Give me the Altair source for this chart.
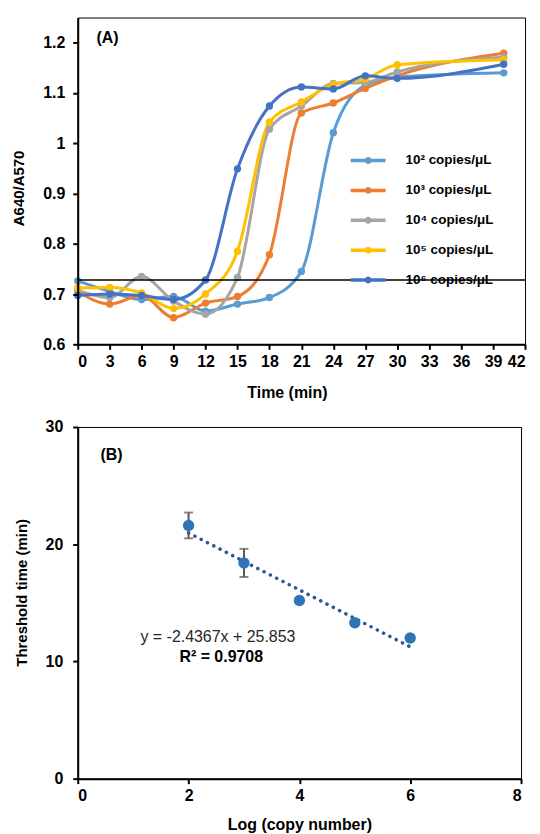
import altair as alt
import pandas as pd

# ---------------- Panel A data ----------------
time_min = [0, 3, 6, 9, 12, 15, 18, 21, 24, 27, 30, 40]
s_1e2 = [0.726, 0.705, 0.689, 0.695, 0.666, 0.680, 0.693, 0.745, 1.021, 1.115, 1.131, 1.140]
s_1e3 = [0.705, 0.680, 0.697, 0.653, 0.682, 0.695, 0.778, 1.060, 1.080, 1.109, 1.134, 1.179]
s_1e4 = [0.707, 0.693, 0.735, 0.686, 0.660, 0.733, 1.028, 1.074, 1.119, 1.121, 1.142, 1.171]
s_1e5 = [0.712, 0.713, 0.702, 0.671, 0.700, 0.785, 1.042, 1.082, 1.117, 1.128, 1.156, 1.166]
s_1e6 = [0.697, 0.700, 0.697, 0.689, 0.728, 0.949, 1.074, 1.112, 1.108, 1.134, 1.129, 1.157]
series_names = ["10² copies/μL", "10³ copies/μL", "10⁴ copies/μL", "10⁵ copies/μL", "10⁶ copies/μL"]
series_colors = ["#5B9BD5", "#ED7D31", "#A5A5A5", "#FFC000", "#4472C4"]
threshold = [0.728]
a_xticks = list(range(0, 43, 3))
a_yticks = [0.6, 0.7, 0.8, 0.9, 1.0, 1.1, 1.2]
label_a = ["(A)"]
label_a_pos = [2.8, 1.21]

# ---------------- Panel B data ----------------
log_copy = [2, 3, 4, 5, 6]
thr_time = [21.6, 18.4, 15.2, 13.3, 12.0]
thr_err = [1.1, 1.2, 0.2, 0.2, 0.2]
b_xticks = [0, 2, 4, 6, 8]
b_yticks = [0, 10, 20, 30]
eq_text = ["y = -2.4367x  + 25.853", "R² = 0.9708"]
eq_pos_x = [2.53, 2.59]
eq_pos_y = [12.07, 10.37]
label_b = ["(B)"]
label_b_pos = [0.61, 27.6]

FONT = "Liberation Sans"
AX = dict(domain=True, ticks=True, domainColor="black", domainWidth=2, tickColor="black",
          tickWidth=2, tickSize=5, labelOverlap=False, grid=False, zindex=1,
          labelFont=FONT, labelFontWeight="bold", labelFontSize=16, labelColor="black",
          titleFont=FONT, titleFontWeight="bold", titleFontSize=16, titleColor="black")
AXY = dict(AX)
AXY["titleFontSize"] = 15

rows = []
for name, vals in zip(series_names, [s_1e2, s_1e3, s_1e4, s_1e5, s_1e6]):
    for t, v in zip(time_min, vals):
        rows.append({"time": t, "ratio": v, "series": name})
dfa = pd.DataFrame(rows)

xa = alt.X("time:Q", scale=alt.Scale(domain=[0, 42], nice=False),
           axis=alt.Axis(values=a_xticks, format="d", title="Time  (min)", titlePadding=15,
                         labelPadding=4, titleX=210, **AX))
ya = alt.Y("ratio:Q", scale=alt.Scale(domain=[0.6, 1.25], nice=False, zero=False),
           axis=alt.Axis(values=a_yticks, title="A640/A570", titlePadding=16, labelPadding=8,
                         titleY=171,
                         labelExpr="'' + round(datum.value*10)/10", **AXY))

legend_path = ("M-1.4,0L1.4,0 M-0.14,0A0.14,0.14 0 1,1 0.14,0A0.14,0.14 0 1,1 -0.14,0")
color = alt.Color("series:N", scale=alt.Scale(domain=series_names, range=series_colors),
                  legend=alt.Legend(title=None, orient="none", legendX=277, legendY=129,
                                    symbolType=legend_path, symbolSize=625, symbolStrokeWidth=3.5,
                                    rowPadding=6, labelOffset=23, labelFont=FONT,
                                    labelFontWeight="bold", labelFontSize=13.5, labelColor="black",
                                    padding=0))

lines = alt.Chart(dfa).mark_line(interpolate="monotone", strokeWidth=3).encode(
    x=xa, y=ya, color=color, order=alt.Order("time:Q"))
pts = alt.Chart(dfa).mark_circle(size=55, opacity=1).encode(
    x=xa, y=ya, color=alt.Color("series:N", legend=None))
thr = alt.Chart(pd.DataFrame({"ratio": threshold})).mark_rule(color="black", strokeWidth=1.5).encode(y=ya)
lab_a = alt.Chart(pd.DataFrame({"time": [label_a_pos[0]], "ratio": [label_a_pos[1]], "t": label_a})).mark_text(
    font=FONT, fontWeight="bold", fontSize=16, color="black").encode(x=xa, y=ya, text="t:N")

panel_a = alt.layer(lines, pts, thr, lab_a).properties(width=449, height=328)

# ---------------- Panel B ----------------
dfb = pd.DataFrame({"x": log_copy, "y": thr_time, "err": thr_err})
dfb["lo"] = dfb["y"] - dfb["err"]
dfb["hi"] = dfb["y"] + dfb["err"]

xb = alt.X("x:Q", scale=alt.Scale(domain=[0, 8], nice=False),
           axis=alt.Axis(values=b_xticks, format="d", title="Log (copy number)", titlePadding=13,
                         labelPadding=4, **AX))
yb = alt.Y("y:Q", scale=alt.Scale(domain=[0, 30], nice=False),
           axis=alt.Axis(values=b_yticks, format="d", title="Threshold time (min)", titlePadding=16,
                         labelPadding=10, titleY=166, **AXY))

base_b = alt.Chart(dfb)
trend = base_b.transform_regression("x", "y").mark_line(
    color="#2F5597", strokeWidth=3.5, strokeDash=[0.1, 7], strokeCap="round").encode(x=xb, y=yb)
err_rule = base_b.mark_rule(color="#595959", strokeWidth=2).encode(x=xb, y="lo:Q", y2="hi:Q")
cap_lo = base_b.mark_tick(color="#595959", thickness=2, size=9, orient="horizontal").encode(
    x=xb, y="lo:Q")
cap_hi = base_b.mark_tick(color="#595959", thickness=2, size=9, orient="horizontal").encode(
    x=xb, y="hi:Q")
pts_b = base_b.mark_circle(size=130, color="#2E75B6", opacity=1).encode(x=xb, y=yb)
eq1 = alt.Chart(pd.DataFrame({"x": [eq_pos_x[0]], "y": [eq_pos_y[0]], "t": [eq_text[0]]})).mark_text(
    font=FONT, fontSize=16, color="#262626").encode(x=xb, y=yb, text="t:N")
eq2 = alt.Chart(pd.DataFrame({"x": [eq_pos_x[1]], "y": [eq_pos_y[1]], "t": [eq_text[1]]})).mark_text(
    font=FONT, fontSize=16, fontWeight="bold", color="#000000").encode(x=xb, y=yb, text="t:N")
lab_b = alt.Chart(pd.DataFrame({"x": [label_b_pos[0]], "y": [label_b_pos[1]], "t": label_b})).mark_text(
    font=FONT, fontWeight="bold", fontSize=16, color="black").encode(x=xb, y=yb, text="t:N")

panel_b = alt.layer(trend, err_rule, cap_lo, cap_hi, pts_b, eq1, eq2, lab_b).properties(
    width=445, height=353)

chart = alt.vconcat(panel_a, panel_b, spacing=17).properties(
    padding={"left": 3, "top": 7, "right": 5, "bottom": 0}
).configure_view(stroke="black", strokeWidth=1).configure_axis(
    grid=False, domain=True, ticks=True, domainColor="black", domainWidth=2, tickColor="black",
    tickWidth=2, tickSize=5, labelOverlap=False,
    labelFont=FONT, labelFontWeight="bold", labelFontSize=16, labelColor="black",
    titleFont=FONT, titleFontWeight="bold", titleFontSize=16, titleColor="black"
)

chart.save("out.html", embed_options={"renderer": "svg", "actions": False})
